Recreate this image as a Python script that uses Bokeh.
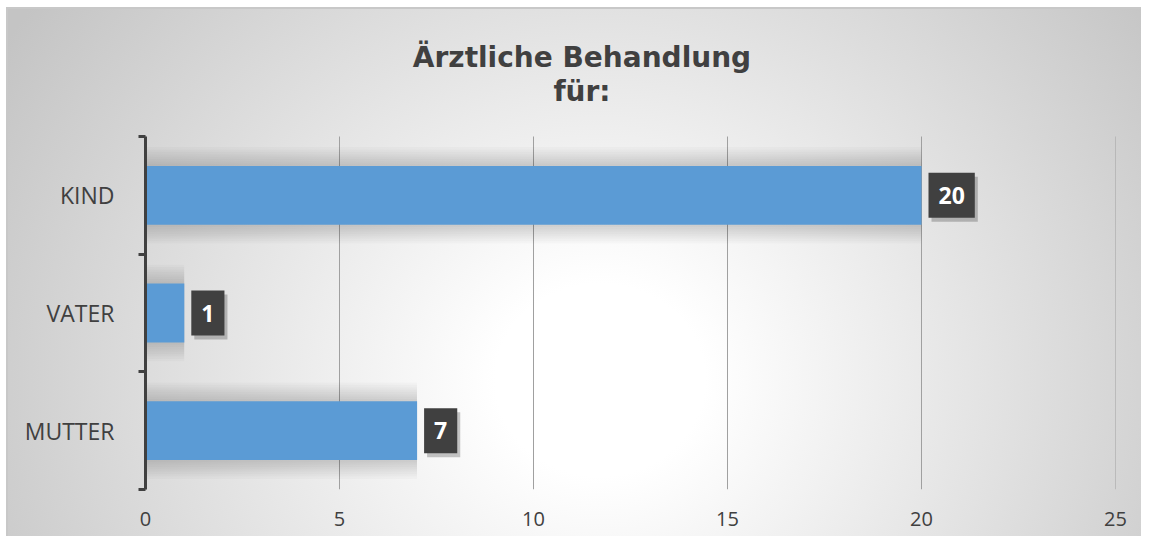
from bokeh.plotting import figure
from bokeh.models import Range1d, FixedTicker, ColumnDataSource
from bokeh.core.properties import value
from bokeh.embed import file_html
from bokeh.resources import INLINE

# ---- data (bottom to top, as in the chart) ----
categories = ["MUTTER", "VATER", "KIND"]
counts = [7, 1, 20]
x_ticks = [0, 5, 10, 15, 20, 25]
title_lines = ["Ärztliche Behandlung", "für:"]

n = len(categories)
ypos = [i + 0.5 for i in range(n)]
src = ColumnDataSource(dict(y=ypos, v=counts, label=[str(c) for c in counts]))

TXT = "#404040"
BAR = "#5B9BD5"
GRAY = "#c8c8c8"

# plot area is 353px tall for the 3 categories; the range is extended upward
# so that the two title lines sit inside the drawing frame above the bars
PX_PER_CAT = 353 / n
FRAME_H = 536 - 47
y_top = FRAME_H / PX_PER_CAT

p = figure(width=1141, height=536,
           x_range=Range1d(x_ticks[0], x_ticks[-1]), y_range=Range1d(0, y_top),
           output_backend="svg", toolbar_location=None,
           min_border_left=145, min_border_right=26, min_border_top=0, min_border_bottom=47)

p.border_fill_color = None
p.background_fill_color = None
p.outline_line_color = None
p.styles = {
    "background-color": "white",
    "background-image": (
        f"linear-gradient({GRAY},{GRAY}), linear-gradient({GRAY},{GRAY}), "
        "radial-gradient(ellipse 700px 640px at 594px 373px, #ffffff 0%, #ffffff 15%, #c4c4c4 100%)"
    ),
    "background-position": "6px 7px, 6px 7px, 6px 7px",
    "background-size": "1135px 2px, 2px 529px, 1135px 529px",
    "background-repeat": "no-repeat",
}

# title: two centred lines above the plot area
xmid = (x_ticks[0] + x_ticks[-1]) / 2
title_x = xmid - 1.25
title_y = [n + 79 / PX_PER_CAT, n + 45 / PX_PER_CAT]
p.text(x=[title_x, title_x], y=title_y, text=title_lines,
       text_align="center", text_baseline="alphabetic",
       text_font=value("DejaVu Sans"), text_font_size="28px", text_font_style="bold",
       text_color=TXT)

# vertical grid lines (only across the category area)
p.segment(x0=x_ticks, y0=[0] * len(x_ticks), x1=x_ticks, y1=[n] * len(x_ticks),
          line_color="#a0a0a0", line_width=1)

# soft shadow around bars
for k in range(8):
    extra = 0.04 * (k + 1)
    p.hbar(y="y", left=0, right="v", height=0.5 + extra, source=src,
           fill_color="black", fill_alpha=0.02, line_color=None)

# bars
p.hbar(y="y", left=0, right="v", height=0.5, source=src, fill_color=BAR, line_color=None)

# data labels: shadow box, then box with text
PAD = dict(left=10, right=10, top=14, bottom=14)
p.text(x="v", y="y", text="label", source=src, x_offset=10, y_offset=4,
       text_align="left", text_baseline="middle", text_alpha=0,
       text_font=value("Open Sans"), text_font_size="23px", text_font_style="bold",
       background_fill_color="black", background_fill_alpha=0.22, padding=PAD)
p.text(x="v", y="y", text="label", source=src, x_offset=7, y_offset=0,
       text_align="left", text_baseline="middle", text_color="white",
       text_font=value("Open Sans"), text_font_size="23px", text_font_style="bold",
       background_fill_color="#404040", padding=PAD)

# x axis
p.xaxis.ticker = FixedTicker(ticks=x_ticks)
p.xaxis.axis_line_color = None
p.xaxis.major_tick_line_color = None
p.xaxis.minor_tick_line_color = None
p.xaxis.major_label_text_font = "Open Sans"
p.xaxis.major_label_text_font_size = "20px"
p.xaxis.major_label_text_color = TXT
p.xaxis.major_label_standoff = 16

# y axis: labels at centres, ticks at boundaries, line only over the categories
p.yaxis.bounds = (0, n)
p.yaxis.ticker = FixedTicker(ticks=ypos, minor_ticks=list(range(n + 1)))
p.yaxis.major_label_overrides = {y: c for y, c in zip(ypos, categories)}
p.yaxis.axis_line_color = TXT
p.yaxis.axis_line_width = 3
p.yaxis.major_tick_line_color = None
p.yaxis.minor_tick_line_color = TXT
p.yaxis.minor_tick_line_width = 3
p.yaxis.minor_tick_in = 0
p.yaxis.minor_tick_out = 7
p.yaxis.major_label_text_font = "Open Sans"
p.yaxis.major_label_text_font_size = "23px"
p.yaxis.major_label_text_color = TXT
p.yaxis.major_label_standoff = 24

p.xgrid.grid_line_color = None
p.ygrid.grid_line_color = None

open("out.html", "w").write(file_html(p, INLINE))
